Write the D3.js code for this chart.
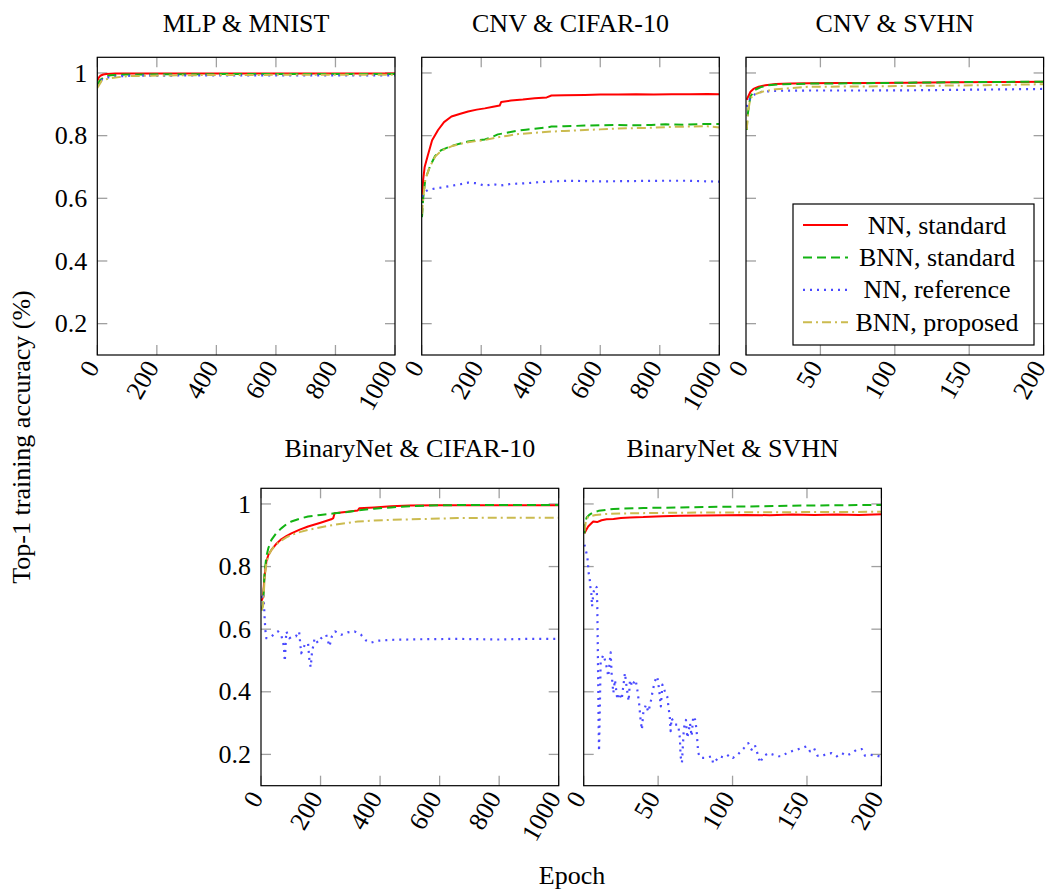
<!DOCTYPE html>
<html><head><meta charset="utf-8">
<script src="https://cdn.jsdelivr.net/npm/d3@7"></script>
<style>
body{margin:0;background:#fff}
svg{display:block}
text{font-family:"Liberation Serif","Times New Roman",serif;fill:#000}
</style>
</head><body>
<svg id="c" width="1045" height="891"></svg>
<script>
// ---------- DATA ----------
const seriesNames = ["NN, standard", "BNN, standard", "NN, reference", "BNN, proposed"];
const panelTitles = ["MLP & MNIST", "CNV & CIFAR-10", "CNV & SVHN", "BinaryNet & CIFAR-10", "BinaryNet & SVHN"];
const panelMaxEpochs = [1000, 1000, 200, 1000, 200];
const yTickValues = [0.2, 0.4, 0.6, 0.8, 1];
const xTicks1000 = [0, 200, 400, 600, 800, 1000];
const xTicks200 = [0, 50, 100, 150, 200];
const yLabel = "Top-1 training accuracy (%)";
const xLabel = "Epoch";

// MLP & MNIST  ([epoch, accuracy])
const mnistNNStd = [[0,0.975],[5,0.985],[10,0.991],[20,0.995],[30,0.997],[60,0.998],[200,0.998],[600,0.998],[1000,0.998]];
const mnistBNNStd = [[0,0.962],[10,0.978],[25,0.988],[45,0.993],[100,0.995],[300,0.996],[600,0.997],[1000,0.997]];
const mnistNNRef = [[0,0.958],[10,0.975],[22,0.983],[50,0.988],[100,0.991],[300,0.992],[600,0.992],[1000,0.992]];
const mnistBNNProp = [[0,0.952],[15,0.975],[40,0.983],[100,0.99],[300,0.993],[600,0.994],[1000,0.994]];

// CNV & CIFAR-10
const cnvCifarNNStd = [[1,0.60],[5,0.66],[10,0.70],[20,0.735],[35,0.785],[55,0.818],[75,0.843],[100,0.861],[130,0.870],[156,0.877],[185,0.883],[212,0.887],[240,0.892],[262,0.896],[267,0.907],[300,0.912],[340,0.915],[380,0.919],[420,0.922],[436,0.928],[480,0.929],[548,0.930],[600,0.931],[660,0.931],[720,0.932],[780,0.931],[840,0.932],[900,0.932],[960,0.933],[1000,0.932]];
const cnvCifarBNNStd = [[1,0.54],[5,0.60],[12,0.66],[27,0.70],[45,0.735],[66,0.754],[100,0.767],[130,0.775],[156,0.781],[185,0.785],[212,0.788],[235,0.795],[256,0.804],[290,0.810],[324,0.816],[350,0.819],[380,0.822],[420,0.826],[436,0.829],[480,0.830],[548,0.832],[600,0.833],[660,0.834],[720,0.833],[772,0.834],[820,0.836],[880,0.835],[940,0.837],[1000,0.837]];
const cnvCifarNNRef = [[1,0.605],[10,0.62],[21,0.627],[50,0.632],[100,0.64],[130,0.645],[156,0.65],[185,0.648],[212,0.64],[240,0.645],[267,0.641],[300,0.646],[350,0.648],[400,0.652],[492,0.656],[600,0.654],[700,0.655],[800,0.656],[900,0.656],[1000,0.653]];
const cnvCifarBNNProp = [[1,0.55],[5,0.60],[12,0.66],[27,0.70],[45,0.733],[66,0.752],[100,0.766],[130,0.774],[156,0.779],[185,0.783],[212,0.786],[256,0.795],[290,0.800],[324,0.805],[380,0.809],[436,0.813],[480,0.815],[548,0.818],[600,0.820],[660,0.823],[720,0.824],[772,0.825],[840,0.828],[900,0.829],[960,0.830],[1000,0.826]];

// CNV & SVHN
const cnvSvhnNNStd = [[0.5,0.914],[1.5,0.925],[3,0.94],[5,0.949],[8.5,0.956],[13,0.961],[20,0.965],[30,0.966],[42,0.967],[60,0.968],[80,0.968],[109,0.969],[140,0.970],[170,0.971],[200,0.972]];
const cnvSvhnBNNStd = [[0.5,0.818],[1,0.86],[1.8,0.89],[3,0.925],[6,0.946],[10,0.955],[15,0.961],[25,0.964],[42,0.966],[70,0.967],[109,0.969],[150,0.971],[200,0.972]];
const cnvSvhnNNRef = [[0.5,0.892],[1.5,0.905],[3,0.92],[6,0.932],[10.7,0.94],[20,0.943],[40,0.944],[80,0.944],[120,0.945],[160,0.947],[200,0.949]];
const cnvSvhnBNNProp = [[0.5,0.82],[1.5,0.88],[3,0.92],[6,0.932],[10.7,0.94],[20,0.948],[42,0.956],[80,0.957],[120,0.959],[160,0.961],[200,0.964]];

// BinaryNet & CIFAR-10
const bnCifarNNStd = [[2,0.69],[7,0.704],[12,0.77],[18,0.816],[25,0.838],[35,0.853],[50,0.871],[68,0.887],[85,0.897],[102,0.906],[130,0.918],[158,0.928],[200,0.940],[236,0.951],[243,0.955],[247,0.970],[290,0.975],[325,0.979],[330,0.986],[380,0.989],[437,0.993],[500,0.995],[600,0.996],[800,0.996],[1000,0.996]];
const bnCifarBNNStd = [[2,0.66],[7,0.68],[12,0.78],[18,0.832],[25,0.86],[35,0.885],[50,0.905],[68,0.922],[85,0.935],[102,0.944],[130,0.953],[158,0.960],[200,0.965],[247,0.970],[290,0.974],[325,0.979],[380,0.985],[437,0.989],[500,0.993],[600,0.996],[800,0.997],[1000,0.997]];
const bnCifarNNRef = [[2,0.70],[7,0.715],[10,0.68],[12,0.64],[14.5,0.598],[18,0.571],[35,0.577],[57,0.593],[68,0.582],[77,0.545],[80,0.497],[85,0.593],[95,0.571],[107,0.577],[117,0.577],[128,0.593],[135,0.523],[147,0.55],[158,0.556],[163,0.497],[167,0.479],[171,0.523],[180,0.571],[191,0.556],[202,0.571],[219,0.582],[230,0.545],[238,0.577],[249,0.593],[269,0.582],[291,0.590],[314,0.593],[336,0.582],[353,0.564],[370,0.557],[392,0.563],[437,0.566],[549,0.568],[661,0.569],[800,0.567],[900,0.569],[1000,0.569]];
const bnCifarBNNProp = [[2,0.66],[7,0.675],[12,0.76],[18,0.81],[25,0.835],[35,0.853],[50,0.870],[68,0.883],[85,0.893],[102,0.901],[130,0.910],[158,0.917],[214,0.928],[270,0.937],[325,0.944],[380,0.947],[437,0.949],[549,0.952],[661,0.955],[800,0.956],[1000,0.956]];

// BinaryNet & SVHN
const bnSvhnNNStd = [[0.5,0.906],[1.5,0.915],[3,0.928],[4.5,0.935],[6.4,0.944],[9,0.942],[12,0.948],[15.4,0.951],[20,0.952],[25,0.955],[31,0.957],[40,0.958],[53,0.961],[65,0.962],[80,0.963],[95,0.964],[109,0.965],[125,0.964],[140,0.966],[155,0.965],[170,0.966],[185,0.965],[200,0.967]];
const bnSvhnBNNStd = [[0.5,0.906],[1,0.94],[2,0.957],[4,0.966],[6.4,0.973],[10,0.978],[20,0.984],[40,0.987],[65,0.989],[109,0.992],[150,0.995],[200,0.997]];
const bnSvhnNNRef = [[0.5,0.87],[1.3,0.855],[2.4,0.832],[2.9,0.809],[3.1,0.786],[4.0,0.762],[4.4,0.738],[5.1,0.715],[5.6,0.672],[6.5,0.715],[7.6,0.737],[8.7,0.734],[9.1,0.683],[9.4,0.566],[9.8,0.406],[10.0,0.30],[10.3,0.21],[11.4,0.497],[13.2,0.518],[14.9,0.492],[16.5,0.449],[18.1,0.526],[18.8,0.454],[19.9,0.396],[21.0,0.438],[22.6,0.375],[24.3,0.396],[25.5,0.375],[27.7,0.46],[28.8,0.417],[30.2,0.37],[31.1,0.438],[32.6,0.417],[33.7,0.43],[34.9,0.438],[36.0,0.407],[37.3,0.36],[38.2,0.311],[39.1,0.279],[40.0,0.332],[41.8,0.359],[43.4,0.336],[44.9,0.364],[46.3,0.402],[47.8,0.434],[49.4,0.449],[50.7,0.407],[51.8,0.353],[52.9,0.423],[54.5,0.402],[56.1,0.385],[57.2,0.343],[57.9,0.316],[58.4,0.274],[59.0,0.316],[61.3,0.295],[63.5,0.295],[64.6,0.252],[65.1,0.194],[66.0,0.173],[67.3,0.284],[68.7,0.31],[69.6,0.252],[70.7,0.279],[71.4,0.3],[72.5,0.258],[73.6,0.322],[74.9,0.31],[75.8,0.279],[76.9,0.205],[78.4,0.189],[82.1,0.189],[85.9,0.194],[87.0,0.171],[91.4,0.194],[94.8,0.189],[97.7,0.199],[100.3,0.189],[103.6,0.2],[107.6,0.22],[110.5,0.236],[112.8,0.215],[115,0.23],[117.3,0.194],[118.4,0.173],[120.7,0.194],[124.1,0.204],[127.4,0.199],[130.8,0.194],[133.0,0.194],[136.4,0.204],[139.7,0.21],[143.1,0.215],[146.5,0.22],[149.8,0.226],[152.0,0.21],[154.7,0.22],[157.0,0.196],[159.9,0.194],[163.3,0.202],[166.6,0.204],[170.0,0.194],[173.3,0.204],[176.7,0.196],[180.1,0.204],[183.4,0.215],[186.8,0.217],[189.0,0.196],[192.4,0.199],[196.9,0.196],[200,0.192]];
const bnSvhnBNNProp = [[0.5,0.914],[1.5,0.945],[3,0.959],[8,0.965],[15,0.968],[31,0.970],[60,0.972],[100,0.973],[150,0.974],[200,0.975]];

const panelSeries = [
  [mnistNNStd, mnistBNNStd, mnistNNRef, mnistBNNProp],
  [cnvCifarNNStd, cnvCifarBNNStd, cnvCifarNNRef, cnvCifarBNNProp],
  [cnvSvhnNNStd, cnvSvhnBNNStd, cnvSvhnNNRef, cnvSvhnBNNProp],
  [bnCifarNNStd, bnCifarBNNStd, bnCifarNNRef, bnCifarBNNProp],
  [bnSvhnNNStd, bnSvhnBNNStd, bnSvhnNNRef, bnSvhnBNNProp]
];

// ---------- LAYOUT / STYLE ----------
const styles = [
  {color: "#ff0000", dash: null, w: 2},
  {color: "#13b313", dash: "9,5", w: 2},
  {color: "#4a4aff", dash: "2,5", w: 2.2},
  {color: "#cbbb4f", dash: "9,4,2,4", w: 2}
];
const boxes = [
  {x0: 97.3, x1: 395, y0: 57.3, y1: 355, yLabels: true, title: 32},
  {x0: 421.7, x1: 719.3, y0: 57.3, y1: 355, yLabels: false, title: 32},
  {x0: 746, x1: 1043.6, y0: 57.3, y1: 355, yLabels: false, title: 32},
  {x0: 261, x1: 558.7, y0: 488.3, y1: 785.7, yLabels: true, title: 457},
  {x0: 583.7, x1: 881.4, y0: 488.3, y1: 785.7, yLabels: false, title: 457}
];
const FS = 26;
const svg = d3.select("#c");
const defs = svg.append("defs");

boxes.forEach((b, i) => {
  const maxE = panelMaxEpochs[i];
  const x = d3.scaleLinear().domain([0, maxE]).range([b.x0, b.x1]);
  const y = d3.scaleLinear().domain([0.1, 1.05]).range([b.y1, b.y0]);
  const xt = maxE === 1000 ? xTicks1000 : xTicks200;
  const g = svg.append("g");

  defs.append("clipPath").attr("id", "clip" + i).append("rect")
    .attr("x", b.x0).attr("y", b.y0).attr("width", b.x1 - b.x0).attr("height", b.y1 - b.y0);

  // ticks (inside, all four sides)
  const tl = 10;
  const tickG = g.append("g").attr("stroke", "#a0a0a0").attr("stroke-width", 1.3);
  xt.forEach(t => {
    tickG.append("line").attr("x1", x(t)).attr("x2", x(t)).attr("y1", b.y1).attr("y2", b.y1 - tl);
    tickG.append("line").attr("x1", x(t)).attr("x2", x(t)).attr("y1", b.y0).attr("y2", b.y0 + tl);
  });
  yTickValues.forEach(t => {
    tickG.append("line").attr("x1", b.x0).attr("x2", b.x0 + tl).attr("y1", y(t)).attr("y2", y(t));
    tickG.append("line").attr("x1", b.x1).attr("x2", b.x1 - tl).attr("y1", y(t)).attr("y2", y(t));
  });

  // lines
  const line = d3.line().x(d => x(d[0])).y(d => y(d[1]));
  const lg = g.append("g").attr("clip-path", `url(#clip${i})`);
  panelSeries[i].forEach((s, k) => {
    const st = styles[k];
    lg.append("path").datum(s).attr("d", line)
      .attr("fill", "none").attr("stroke", st.color).attr("stroke-width", st.w)
      .attr("stroke-dasharray", st.dash).attr("stroke-linejoin", "round");
  });

  // frame
  g.append("rect").attr("x", b.x0).attr("y", b.y0).attr("width", b.x1 - b.x0).attr("height", b.y1 - b.y0)
    .attr("fill", "none").attr("stroke", "#000").attr("stroke-width", 1.2);

  // y tick labels
  if (b.yLabels) {
    yTickValues.forEach(t => {
      g.append("text").attr("x", b.x0 - 10).attr("y", y(t)).attr("dy", "0.33em")
        .attr("text-anchor", "end").attr("font-size", FS)
        .text(t === 1 ? "1" : d3.format(".1f")(t));
    });
  }
  // x tick labels (rotated)
  xt.forEach(t => {
    const ax = x(t) - 4.5, ay = b.y1 + 8;
    g.append("text").attr("transform", `translate(${ax},${ay}) rotate(-60)`)
      .attr("text-anchor", "end").attr("dy", "0.33em").attr("font-size", FS).text(t);
  });
  // title
  g.append("text").attr("x", (b.x0 + b.x1) / 2).attr("y", b.title)
    .attr("text-anchor", "middle").attr("font-size", FS).text(panelTitles[i]);
});

// legend (inside CNV & SVHN)
const L = {x0: 793, y0: 204, x1: 1034, y1: 345};
const leg = svg.append("g");
leg.append("rect").attr("x", L.x0).attr("y", L.y0).attr("width", L.x1 - L.x0).attr("height", L.y1 - L.y0)
  .attr("fill", "#fff").attr("stroke", "#000").attr("stroke-width", 1.2);
seriesNames.forEach((n, k) => {
  const cy = 225 + k * 32.4;
  const st = styles[k];
  leg.append("line").attr("x1", 803).attr("x2", 848).attr("y1", cy).attr("y2", cy)
    .attr("stroke", st.color).attr("stroke-width", st.w).attr("stroke-dasharray", st.dash);
  leg.append("text").attr("x", 937).attr("y", cy).attr("dy", "0.33em")
    .attr("text-anchor", "middle").attr("font-size", FS).text(n);
});

// axis labels
svg.append("text").attr("transform", "translate(30,437) rotate(-90)")
  .attr("text-anchor", "middle").attr("font-size", FS).text(yLabel);
svg.append("text").attr("x", 572).attr("y", 884)
  .attr("text-anchor", "middle").attr("font-size", FS).text(xLabel);
</script>
</body></html>
